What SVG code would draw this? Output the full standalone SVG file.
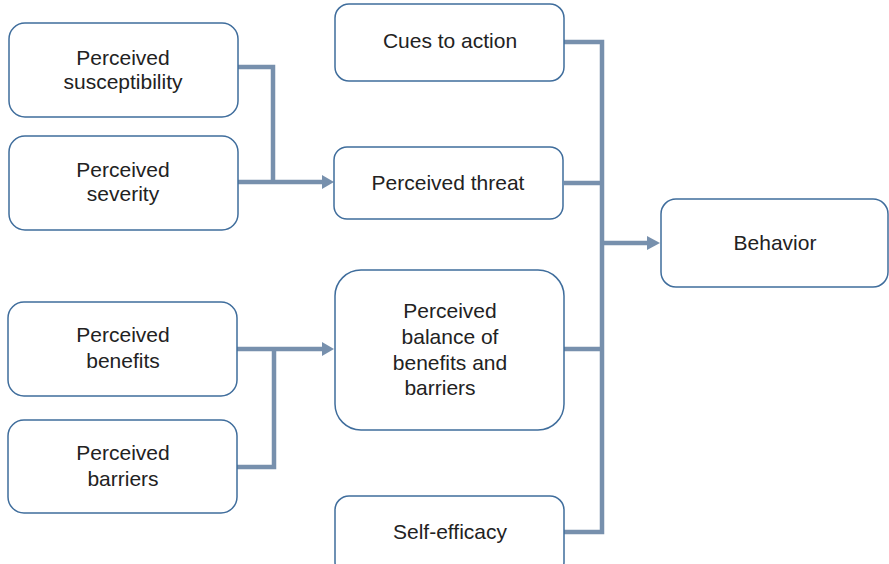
<svg xmlns="http://www.w3.org/2000/svg" width="889" height="564" viewBox="0 0 889 564">
  <defs>
    <style>
      .box { fill: #ffffff; stroke: #3f6d9c; stroke-width: 1.5; }
      .lbl { font-family: "Liberation Sans", Arial, Helvetica, sans-serif; font-size: 21px; fill: #222222; text-anchor: middle; }
      .wire { fill: none; stroke: #7790ad; stroke-width: 4.5; stroke-linejoin: miter; stroke-linecap: butt; }
      .head { fill: #7790ad; }
    </style>
  </defs>
  <rect width="889" height="564" fill="#ffffff"/>

  <!-- connectors -->
  <g id="connectors">
    <path class="wire" d="M238,67 H273 V182"/>
    <path class="wire" d="M238,182 H323"/>
    <polygon class="head" points="322,175 334,182 322,189"/>

    <path class="wire" d="M237,467 H274 V349"/>
    <path class="wire" d="M237,349 H323"/>
    <polygon class="head" points="322,342 334,349 322,356"/>

    <path class="wire" d="M564,42 H602 V532 H564"/>
    <path class="wire" d="M564,183 H602"/>
    <path class="wire" d="M564,349 H602"/>
    <path class="wire" d="M602,243 H648"/>
    <polygon class="head" points="647,236 660,243 647,250"/>
  </g>

  <g id="susceptibility">
    <rect class="box" x="9" y="23" width="229" height="94" rx="16"/>
    <text class="lbl" x="123" y="65">Perceived</text>
    <text class="lbl" x="123" y="89">susceptibility</text>
  </g>

  <g id="severity">
    <rect class="box" x="9" y="136" width="229" height="94" rx="16"/>
    <text class="lbl" x="123" y="177">Perceived</text>
    <text class="lbl" x="123" y="201">severity</text>
  </g>

  <g id="benefits">
    <rect class="box" x="8" y="302" width="229" height="94" rx="16"/>
    <text class="lbl" x="123" y="342">Perceived</text>
    <text class="lbl" x="123" y="368">benefits</text>
  </g>

  <g id="barriers">
    <rect class="box" x="8" y="420" width="229" height="93" rx="16"/>
    <text class="lbl" x="123" y="460">Perceived</text>
    <text class="lbl" x="123" y="486">barriers</text>
  </g>

  <g id="cues">
    <rect class="box" x="335" y="4" width="229" height="77" rx="14"/>
    <text class="lbl" x="450" y="48">Cues to action</text>
  </g>

  <g id="threat">
    <rect class="box" x="334" y="147" width="229" height="72" rx="13"/>
    <text class="lbl" x="448" y="190">Perceived threat</text>
  </g>

  <g id="balance">
    <rect class="box" x="335" y="270" width="229" height="160" rx="26"/>
    <text class="lbl" x="450" y="318">Perceived</text>
    <text class="lbl" x="450" y="344">balance of</text>
    <text class="lbl" x="450" y="370">benefits and</text>
    <text class="lbl" x="440" y="395">barriers</text>
  </g>

  <g id="selfefficacy">
    <rect class="box" x="335" y="496" width="229" height="80" rx="14"/>
    <text class="lbl" x="450" y="539">Self-efficacy</text>
  </g>

  <g id="behavior">
    <rect class="box" x="661" y="199" width="227" height="88" rx="15"/>
    <text class="lbl" x="775" y="250">Behavior</text>
  </g>
</svg>
